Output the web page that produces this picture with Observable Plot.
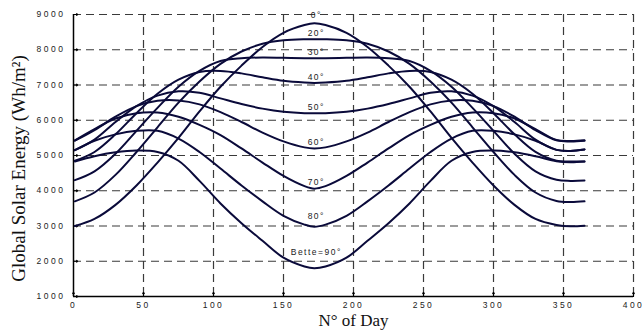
<!DOCTYPE html>
<html><head><meta charset="utf-8">
<script src="https://cdn.jsdelivr.net/npm/d3@7"></script>
<script src="https://cdn.jsdelivr.net/npm/@observablehq/plot@0.6"></script>
<style>body{margin:0;background:#fff;}</style>
</head><body><div id="chart"></div>
<script>
const days = [1,15,30,45,60,75,90,105,120,135,150,165,172,180,195,210,225,240,255,270,285,300,315,330,345,355,365];
const tilt0  = [3000,3200,3600,4150,4800,5500,6250,6950,7550,8080,8480,8700,8750,8700,8480,8080,7550,6950,6250,5500,4800,4150,3600,3200,3030,2990,3010];
const tilt20 = [3700,3950,4450,5100,5800,6500,7100,7600,7950,8170,8270,8300,8300,8300,8270,8170,7950,7600,7100,6500,5800,5100,4450,3950,3710,3680,3700];
const tilt30 = [4300,4550,5050,5700,6350,6950,7400,7680,7760,7780,7770,7760,7760,7760,7770,7780,7760,7680,7400,6950,6350,5700,5050,4550,4310,4280,4290];
const tilt40 = [4850,5100,5600,6200,6750,7150,7370,7400,7330,7220,7120,7070,7060,7070,7120,7220,7330,7400,7370,7150,6750,6200,5600,5100,4850,4830,4830];
const tilt50 = [5150,5450,5950,6400,6700,6820,6780,6620,6460,6330,6240,6200,6200,6200,6240,6330,6460,6620,6780,6820,6700,6400,5950,5450,5160,5130,5170];
const tilt60 = [5420,5720,6100,6400,6550,6560,6450,6230,5950,5650,5400,5230,5200,5230,5400,5650,5950,6230,6450,6560,6550,6400,6100,5720,5430,5400,5420];
const tilt70 = [5430,5750,6050,6200,6220,6100,5870,5580,5200,4800,4420,4130,4060,4130,4420,4800,5200,5580,5870,6100,6220,6200,6050,5750,5440,5410,5430];
const tilt80 = [5150,5420,5600,5700,5700,5480,5100,4630,4150,3700,3290,3040,2980,3040,3290,3700,4150,4630,5100,5480,5700,5700,5600,5420,5160,5130,5170];
const tilt90 = [4830,4980,5090,5140,5100,4850,4280,3640,3080,2580,2100,1850,1800,1850,2100,2580,3080,3640,4280,4850,5100,5140,5090,4980,4840,4810,4830];
const seriesValues = [tilt0, tilt20, tilt30, tilt40, tilt50, tilt60, tilt70, tilt80, tilt90];
const seriesLabels = ["0°","20°","30°","40°","50°","60°","70°","80°","Bette=90°"];
const xTicks = [0,50,100,150,200,250,300,350,400];
const yTicks = [1000,2000,3000,4000,5000,6000,7000,8000,9000];
const xTitle = "N° of Day";
const yTitle = "Global Solar Energy (Wh/m²)";

const lineColor = "#0a0a3a";
const rows = [];
seriesValues.forEach((vals, i) => vals.forEach((v, j) => rows.push({series: seriesLabels[i], day: days[j], value: v})));
const peakDay = 172;
const labelRows = seriesValues.map((vals, i) => ({label: seriesLabels[i], day: peakDay, value: vals[days.indexOf(peakDay)], i}));
const labelDy = i => (i === 8 ? -16 : i === 7 ? -10 : i === 0 ? -8 : -6);

const gridStyle = {stroke: "#3a3a3a", strokeOpacity: 1, strokeWidth: 1.2, strokeDasharray: "8,5"};
const serif = "'Liberation Serif', 'Times New Roman', serif";

const chart = Plot.plot({
  width: 644, height: 334,
  marginLeft: 73, marginRight: 11, marginTop: 14, marginBottom: 38,
  x: {domain: [0, 400]},
  y: {domain: [1000, 9000]},
  style: {background: "#fff", fontFamily: "'Liberation Sans', Arial, sans-serif", color: "#222"},
  marks: [
    Plot.gridX(xTicks.slice(1), gridStyle),
    Plot.gridY(yTicks.slice(1), gridStyle),
    Plot.ruleX([xTicks[0]], {stroke: "#000", strokeWidth: 1.5}),
    Plot.ruleY([yTicks[0]], {stroke: "#000", strokeWidth: 1.5}),
    Plot.vector(xTicks, {x: d => d, frameAnchor: "bottom", length: 4, anchor: "start", stroke: "#000", strokeWidth: 1.2}),
    Plot.vector(yTicks, {y: d => d, frameAnchor: "left", length: 4, rotate: 90, anchor: "start", stroke: "#000", strokeWidth: 1.2}),
    Plot.axisX(xTicks, {tickSize: 0, tickPadding: 5, fontSize: 8.5, label: null, fill: "#222", tickFormat: d => String(d)}),
    Plot.axisY(yTicks, {tickSize: 0, tickPadding: 8, fontSize: 8.5, label: null, fill: "#222", tickFormat: d => String(d)}),
    Plot.line(rows, {x: "day", y: "value", z: "series", stroke: lineColor, strokeWidth: 2, curve: "catmull-rom"}),
    ...labelRows.map(r => Plot.text([r], {x: "day", y: "value", text: "label", dy: labelDy(r.i), dx: 2, fontSize: 8.5, fill: "#222", className: "curve-label"})),
    Plot.text([xTitle], {frameAnchor: "bottom", dy: 29, fontSize: 17, fontFamily: serif, fill: "#111"}),
    Plot.text([yTitle], {frameAnchor: "left", textAnchor: "middle", rotate: -90, dx: -55, dy: 13, fontSize: 19, fontFamily: serif, fill: "#111"})
  ]
});
d3.select(chart).selectAll('g[aria-label="x-axis tick label"], g[aria-label="y-axis tick label"]').attr("letter-spacing", "2.5");
d3.select(chart).selectAll('.curve-label').attr("letter-spacing", "1.5");
document.getElementById("chart").appendChild(chart);
</script>
</body></html>
